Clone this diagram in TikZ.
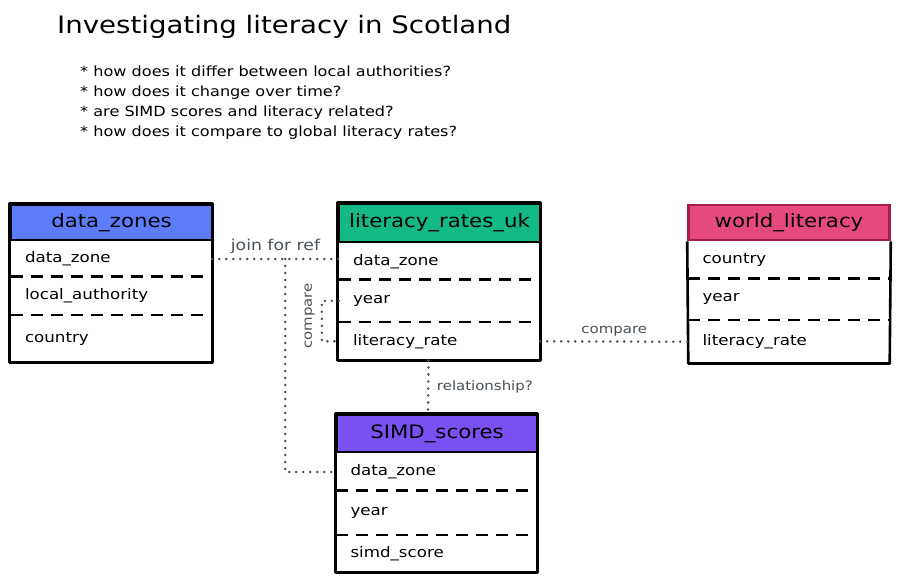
\documentclass[tikz,border=0pt]{standalone}
\usepackage{fontspec}
\setmainfont[FakeStretch=1.15]{DejaVu Sans}
\usetikzlibrary{positioning}
\definecolor{zoneblue}{RGB}{92,124,250}
\definecolor{ukgreen}{RGB}{18,184,134}
\definecolor{worldpink}{RGB}{230,73,128}
\definecolor{worlddark}{RGB}{166,30,77}
\definecolor{simdpurple}{RGB}{121,80,242}
\definecolor{linkgray}{RGB}{73,80,87}

\begin{document}
\begin{tikzpicture}[x=1pt,y=-1pt,
  hdr/.style={draw,line width=2.6pt,minimum width=201pt,inner sep=0pt,font=\fontsize{18.5}{20}\selectfont},
  fld/.style={minimum width=201pt,text width=173pt,inner xsep=14pt,inner ysep=0pt,align=left,font=\fontsize{14.5}{17}\selectfont},
  frame/.style={line width=2.6pt,line join=round},
  sep/.style={line width=2.6pt,dash pattern=on 12pt off 8pt},
  link/.style={linkgray,line width=2.8pt,line cap=round,dash pattern=on 0pt off 7pt},
  linklabel/.style={text=linkgray,font=\fontsize{13}{15}\selectfont},
  question/.style={anchor=base west,inner sep=0pt,font=\fontsize{14}{16}\selectfont}]
 \useasboundingbox (0,0) rectangle (905,580);
 \node[anchor=base west,inner sep=0pt,font=\fontsize{24}{28}\selectfont] (title) at (57,34)
   {Investigating literacy in Scotland};
 \foreach \q [count=\i] in {how does it differ between local authorities?,
   how does it change over time?,are SIMD scores and literacy related?,
   how does it compare to global literacy rates?}
   {\node[question] (q\i) at (80,57+20*\i) {* \q};}

 % data_zones
 \node[hdr,fill=zoneblue,minimum height=35pt] (zones) at (111.5,222.5) {data\_zones};
 \node[fld,minimum height=35pt,below=0pt of zones] (zones-a) {data\_zone};
 \node[fld,minimum height=38pt,below=0pt of zones-a] (zones-b) {local\_authority};
 \node[fld,minimum height=47pt,below=0pt of zones-b] (zones-c) {country};
 \draw[frame] (zones.north west) rectangle (zones-c.south east);

 % literacy_rates_uk
 \node[hdr,fill=ukgreen,minimum height=38pt] (uk) at (439.5,223) {literacy\_rates\_uk};
 \node[fld,minimum height=36pt,below=0pt of uk] (uk-a) {data\_zone};
 \node[fld,minimum height=42pt,below=0pt of uk-a] (uk-b) {year};
 \node[fld,minimum height=38pt,below=0pt of uk-b] (uk-c) {literacy\_rate};
 \draw[frame] (uk.north west) rectangle (uk-c.south east);

 % world_literacy
 \node[hdr,fill=worldpink,draw=worlddark,minimum height=35pt] (world) at (789,222.5) {world\_literacy};
 \node[fld,minimum height=37pt,below=0pt of world] (world-a) {country};
 \node[fld,minimum height=41pt,below=0pt of world-a] (world-b) {year};
 \node[fld,minimum height=43pt,below=0pt of world-b] (world-c) {literacy\_rate};
 \draw[frame] (world.south west) -- (world-c.south west) -- (world-c.south east) -- (world.south east);

 % SIMD_scores
 \node[hdr,fill=simdpurple,minimum height=37pt] (simd) at (437,433.5) {SIMD\_scores};
 \node[fld,minimum height=37pt,below=0pt of simd] (simd-a) {data\_zone};
 \node[fld,minimum height=44pt,below=0pt of simd-a] (simd-b) {year};
 \node[fld,minimum height=37pt,below=0pt of simd-b] (simd-c) {simd\_score};
 \draw[frame] (simd.north west) rectangle (simd-c.south east);

 \foreach \r in {zones-a,zones-b,uk-a,uk-b,world-a,world-b,simd-a,simd-b}
   {\draw[sep] (\r.south west)--(\r.south east);}

 % links
 \draw[link] (zones-a.east) -- node[linklabel,above=1pt,font=\fontsize{15}{17}\selectfont] (joinlbl) {join for ref} (zones-a.east -| uk-a.west);
 \coordinate (jn) at ([xshift=73pt]zones-a.east);
 \draw[link] (jn) |- (simd-a.west);
 \draw[link] (uk-b.west) -- ++(-17,0) |- (uk-c.west);
 \node[linklabel,rotate=90] (cmpyear) at (309.5,316) {compare};
 \draw[link] ([xshift=-11pt]uk-c.south) -- node[linklabel,right=4pt] (rellbl) {relationship?} ([xshift=-9pt]simd.north);
 \draw[link] (uk-c.east) -- node[linklabel,above=1pt] (cmpworld) {compare} (world-c.west);
\end{tikzpicture}
\end{document}
